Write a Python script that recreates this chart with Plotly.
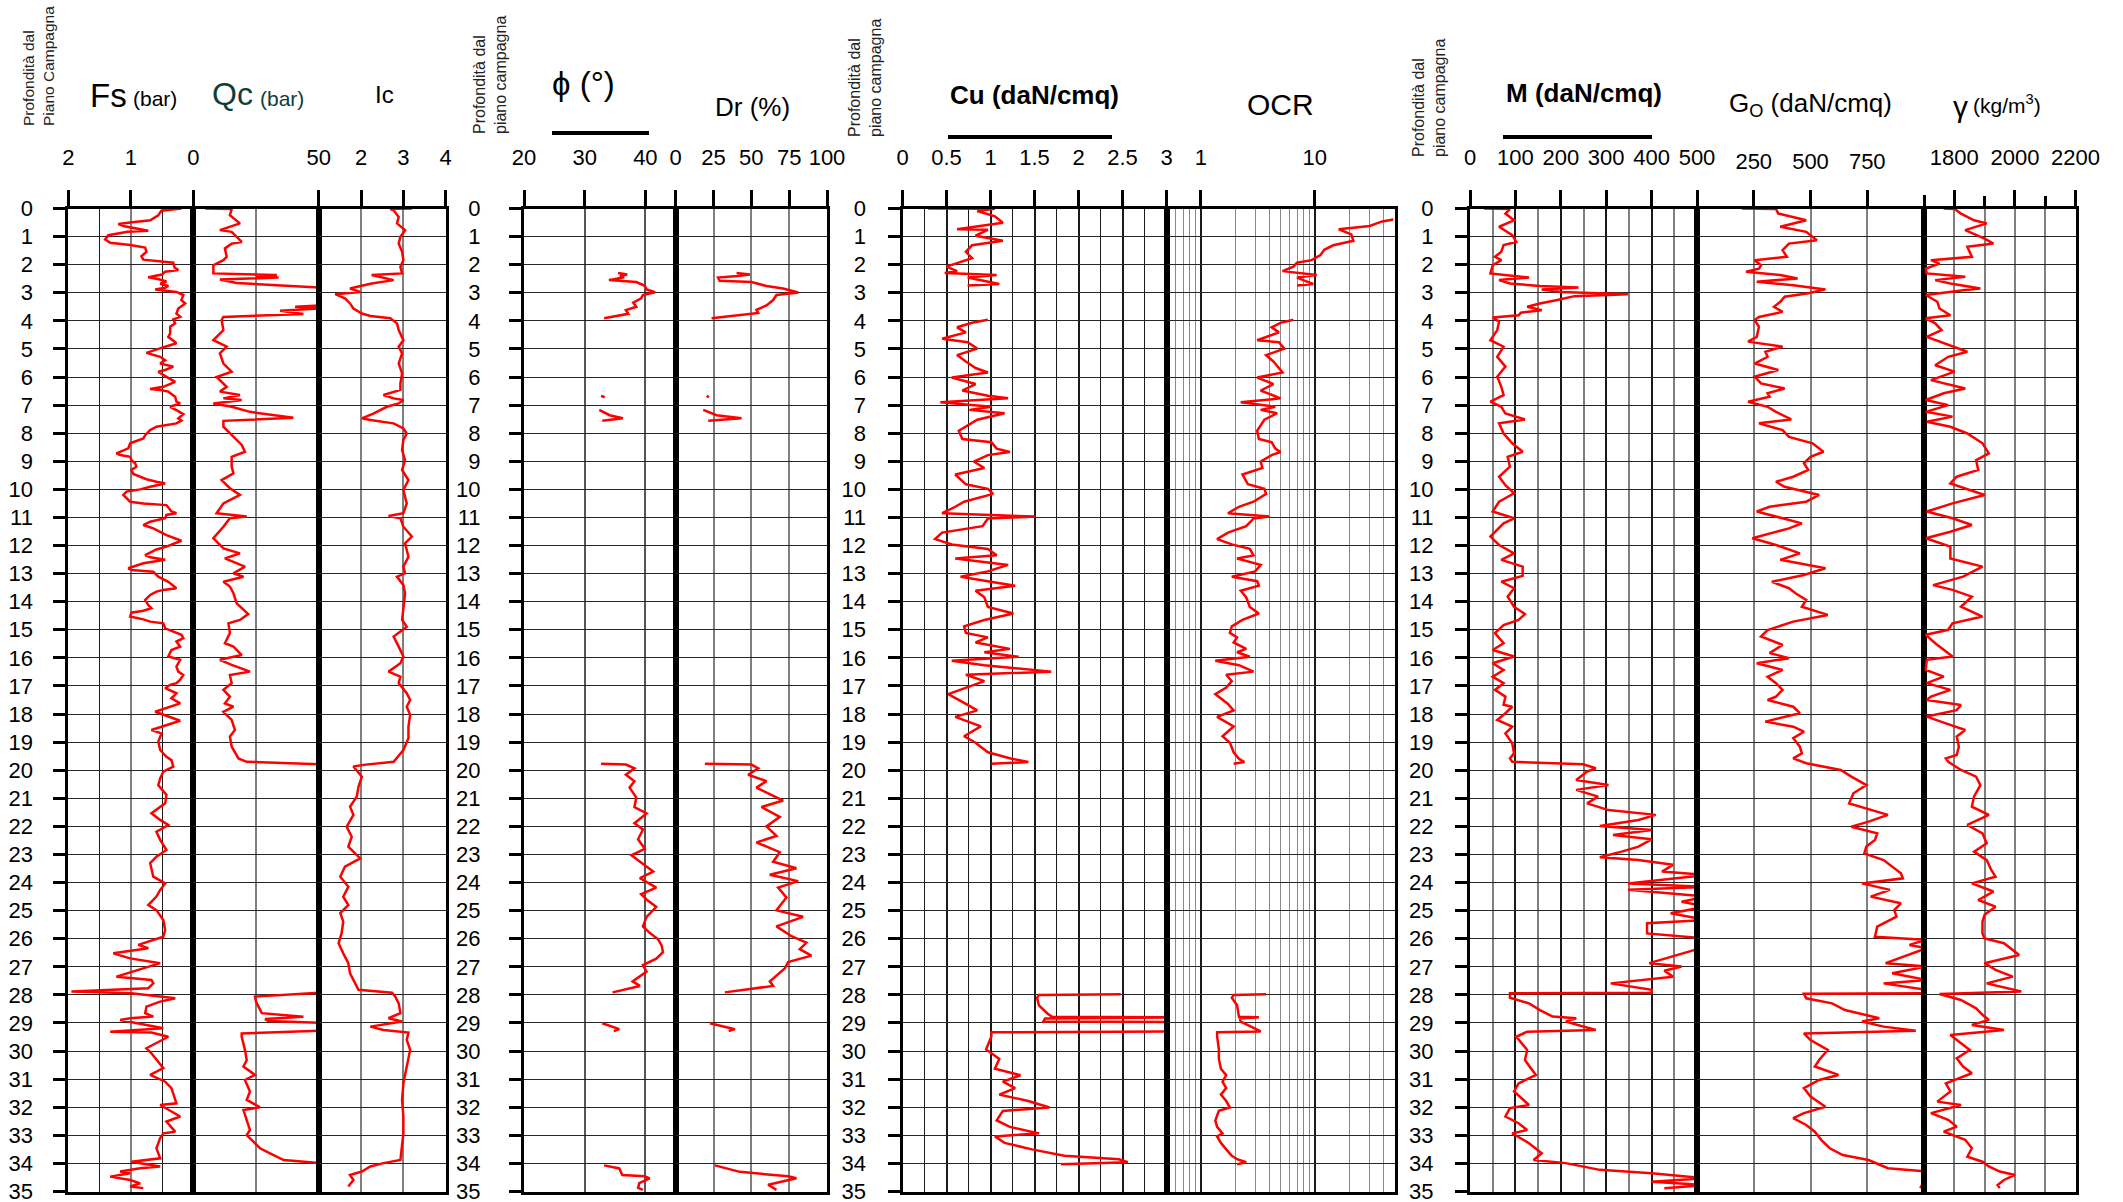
import math
import plotly.graph_objects as go

# ---------------------------------------------------------------- data
DEPTH_TICKS = list(range(0, 36))

FS_TICKS, FS_LABELS = [2, 1, 0], ["2", "1", "0"]
QC_TICKS, QC_LABELS = [0, 50], ["", "50"]
IC_TICKS, IC_LABELS = [1, 2, 3, 4], ["", "2", "3", "4"]
PHI_TICKS, PHI_LABELS = [20, 30, 40, 45], ["20", "30", "40", ""]
DR_TICKS, DR_LABELS = [0, 25, 50, 75, 100], ["0", "25", "50", "75", "100"]
CU_TICKS, CU_LABELS = [0, 0.5, 1, 1.5, 2, 2.5, 3], ["0", "0.5", "1", "1.5", "2", "2.5", "3"]
OCR_TICKS, OCR_LABELS = [1, 10], ["1", "10"]
M_TICKS, M_LABELS = [0, 100, 200, 300, 400, 500], ["0", "100", "200", "300", "400", "500"]
GO_TICKS, GO_LABELS = [250, 500, 750], ["250", "500", "750"]
GAMMA_TICKS, GAMMA_LABELS = [1800, 2000, 2200], ["1800", "2000", "2200"]

# (depth m, value) pairs; (None, None) = gap
FS = [(0.00, 0.19), (0.08, 0.51), (0.24, 0.56), (0.42, 0.69), (0.50, 1.01), (0.55, 1.20), (0.63, 1.10),
      (0.70, 0.90), (0.79, 0.72), (0.83, 1.05), (0.95, 1.36), (1.10, 1.41), (1.22, 1.33), (1.30, 1.01),
      (1.39, 0.77), (1.54, 0.75), (1.70, 0.83), (1.82, 0.80), (1.88, 0.55), (1.93, 0.32), (2.10, 0.30),
      (2.19, 0.24), (2.25, 0.45), (2.35, 0.50), (2.45, 0.72), (2.52, 0.55), (2.60, 0.43), (2.68, 0.53),
      (2.76, 0.40), (2.82, 0.45), (2.88, 0.61), (2.91, 0.48), (2.97, 0.27), (3.08, 0.16), (3.26, 0.19),
      (3.38, 0.13), (3.56, 0.24), (3.74, 0.27), (3.86, 0.21), (3.95, 0.32), (4.09, 0.29), (4.21, 0.37),
      (4.45, 0.37), (4.57, 0.40), (4.74, 0.29), (4.80, 0.27), (4.92, 0.45), (5.14, 0.75), (5.28, 0.53),
      (5.40, 0.45), (5.52, 0.53), (5.63, 0.32), (5.75, 0.45), (5.81, 0.56), (5.97, 0.45), (6.17, 0.29),
      (6.35, 0.48), (6.43, 0.69), (6.46, 0.53), (6.52, 0.40), (6.70, 0.29), (6.88, 0.27), (6.94, 0.21),
      (7.06, 0.37), (7.18, 0.27), (7.32, 0.16), (7.47, 0.24), (7.55, 0.19), (7.65, 0.27), (7.77, 0.59),
      (7.89, 0.69), (8.07, 0.77), (8.19, 0.80), (8.36, 1.01), (8.54, 1.04), (8.72, 1.23), (8.78, 1.17),
      (8.84, 1.01), (8.96, 0.99), (9.07, 0.93), (9.19, 0.91), (9.31, 0.99), (9.45, 0.96), (9.64, 0.75),
      (9.73, 0.59), (9.79, 0.45), (9.91, 0.69), (10.00, 0.85), (10.08, 1.07), (10.20, 1.12), (10.44, 1.01),
      (10.50, 0.80), (10.56, 0.43), (10.79, 0.35), (10.85, 0.27), (10.91, 0.43), (11.03, 0.45), (11.15, 0.69),
      (11.27, 0.80), (11.39, 0.64), (11.63, 0.43), (11.83, 0.19), (12.04, 0.43), (12.14, 0.59), (12.34, 0.77),
      (12.42, 0.69), (12.51, 0.45), (12.63, 0.80), (12.81, 1.04), (12.87, 0.99), (12.93, 0.64), (13.11, 0.56),
      (13.29, 0.40), (13.52, 0.27), (13.58, 0.48), (13.64, 0.59), (13.76, 0.69), (13.94, 0.77), (14.12, 0.72),
      (14.23, 0.67), (14.32, 0.80), (14.39, 0.99), (14.53, 1.01), (14.63, 0.80), (14.71, 0.69), (14.77, 0.48),
      (14.95, 0.45), (15.07, 0.32), (15.18, 0.19), (15.30, 0.16), (15.42, 0.27), (15.60, 0.21), (15.72, 0.35),
      (15.95, 0.40), (16.01, 0.32), (16.07, 0.21), (16.31, 0.27), (16.49, 0.24), (16.61, 0.16), (16.78, 0.21),
      (16.90, 0.27), (16.96, 0.37), (17.08, 0.45), (17.26, 0.27), (17.44, 0.35), (17.62, 0.21), (17.92, 0.61),
      (18.24, 0.21), (18.57, 0.67), (18.69, 0.51), (18.98, 0.56), (19.28, 0.53), (19.52, 0.43), (19.64, 0.35),
      (19.87, 0.32), (20.05, 0.48), (20.29, 0.53), (20.53, 0.56), (20.88, 0.43), (21.18, 0.45), (21.53, 0.67),
      (21.77, 0.53), (21.95, 0.40), (22.19, 0.59), (22.48, 0.53), (22.84, 0.43), (23.08, 0.59), (23.31, 0.69),
      (23.79, 0.64), (24.03, 0.45), (24.26, 0.53), (24.50, 0.59), (24.80, 0.72), (24.98, 0.59), (25.33, 0.48),
      (25.69, 0.45), (25.93, 0.48), (26.22, 0.88), (26.34, 0.72), (26.52, 1.28), (26.70, 1.01), (26.87, 0.53),
      (27.35, 1.23), (27.47, 0.67), (27.59, 0.64), (27.76, 0.72), (27.88, 1.95), (27.94, 0.99), (28.12, 0.29),
      (28.24, 0.53), (28.42, 0.75), (28.65, 0.77), (28.77, 0.64), (28.83, 1.01), (28.89, 1.17), (29.19, 0.48),
      (29.31, 1.33), (29.34, 0.67), (29.49, 0.40), (29.90, 0.75), (30.08, 0.67), (30.61, 0.48), (30.85, 0.69),
      (31.09, 0.45), (31.32, 0.35), (31.86, 0.27), (31.92, 0.53), (32.33, 0.21), (32.51, 0.43), (32.87, 0.29),
      (32.93, 0.48), (33.10, 0.53), (33.46, 0.59), (33.82, 0.53), (33.94, 0.99), (34.11, 0.53), (34.17, 0.85),
      (34.29, 1.17), (34.35, 1.01), (34.47, 1.33), (34.59, 1.01), (34.71, 0.85), (34.82, 1.01), (34.88, 0.80)]

QC = [(0.00, 4.7), (0.02, 15.3), (0.24, 14.6), (0.53, 18.6), (0.77, 10.6), (0.83, 15.3), (1.19, 19.3),
      (1.25, 15.3), (1.42, 12.6), (1.72, 13.3), (1.84, 12.0), (2.02, 8.0), (2.31, 8.0), (2.37, 33.3),
      (2.41, 25.0), (2.46, 34.0), (2.53, 10.6), (2.65, 17.3), (2.73, 33.3), (2.80, 50.3), (2.86, 60.0),
      (3.40, 60.0), (3.44, 50.0), (3.50, 40.6), (3.56, 50.0), (3.64, 34.6), (3.76, 43.9), (3.86, 12.0),
      (3.97, 11.3), (4.33, 12.0), (4.69, 8.0), (4.92, 13.3), (5.16, 10.6), (5.52, 12.0), (5.81, 15.3),
      (6.00, 9.3), (6.35, 13.3), (6.52, 10.6), (6.64, 18.6), (6.76, 12.0), (6.82, 19.3), (6.94, 8.0),
      (7.06, 15.3), (7.24, 22.6), (7.45, 39.9), (7.56, 12.0), (7.77, 12.0), (8.13, 16.0), (8.42, 19.3),
      (8.66, 20.6), (8.84, 15.3), (9.19, 15.3), (9.43, 16.0), (9.67, 11.3), (9.96, 14.6), (10.20, 18.6),
      (10.50, 12.0), (10.85, 9.3), (10.97, 21.3), (11.03, 14.6), (11.33, 12.0), (11.74, 8.0), (12.10, 12.0),
      (12.28, 18.6), (12.46, 12.6), (12.75, 20.6), (12.99, 16.0), (13.11, 20.0), (13.29, 12.0), (13.46, 14.6),
      (13.70, 16.0), (14.06, 17.3), (14.44, 21.9), (14.65, 18.6), (14.77, 14.0), (15.12, 14.6), (15.48, 12.6),
      (15.60, 16.0), (15.90, 19.3), (16.07, 10.6), (16.25, 15.3), (16.49, 22.6), (16.61, 14.6), (16.90, 15.3),
      (17.14, 12.0), (17.38, 14.6), (17.62, 12.6), (17.74, 16.0), (17.92, 12.0), (18.21, 15.3), (18.57, 16.6),
      (18.80, 14.6), (19.16, 15.3), (19.58, 18.0), (19.70, 21.3), (19.79, 50.3), (19.85, 60.0), (27.88, 60.0),
      (27.92, 50.3), (28.06, 24.6), (28.24, 25.0), (28.65, 27.3), (28.78, 43.9), (28.86, 28.6), (28.93, 30.0),
      (28.99, 50.3), (29.05, 60.0), (29.24, 60.0), (29.28, 50.3), (29.37, 19.3), (29.49, 19.3), (29.96, 20.6),
      (30.32, 21.3), (30.55, 20.0), (30.85, 24.6), (31.03, 20.6), (31.44, 22.6), (31.74, 21.3), (32.00, 26.6),
      (32.10, 20.0), (32.45, 21.3), (32.81, 22.6), (32.99, 21.3), (33.16, 23.3), (33.46, 26.6), (33.64, 30.6),
      (33.88, 36.0), (33.99, 50.3), (34.05, 60.0), (35.00, 60.0)]

IC = [(0.00, 3.20), (0.02, 2.69), (0.06, 2.77), (0.30, 2.89), (0.53, 2.85), (0.77, 3.04), (1.01, 2.93),
      (1.25, 2.89), (1.54, 2.97), (1.84, 3.00), (2.08, 2.93), (2.31, 2.97), (2.37, 2.25), (2.43, 2.45),
      (2.55, 2.77), (2.67, 2.25), (2.79, 1.90), (2.85, 1.74), (2.97, 1.98), (3.05, 1.39), (3.20, 1.62),
      (3.38, 1.74), (3.56, 1.82), (3.74, 2.02), (3.83, 2.22), (3.91, 2.69), (4.09, 2.85), (4.33, 2.89),
      (4.69, 3.00), (4.92, 2.89), (5.16, 2.97), (5.52, 2.89), (5.87, 2.97), (6.23, 2.93), (6.46, 2.93),
      (6.64, 2.53), (6.76, 2.77), (6.82, 3.00), (6.94, 2.89), (7.06, 2.61), (7.30, 2.29), (7.47, 2.02),
      (7.53, 2.22), (7.65, 2.77), (7.83, 3.00), (8.01, 3.08), (8.24, 3.00), (8.60, 2.97), (8.96, 3.04),
      (9.31, 2.97), (9.67, 3.12), (10.02, 3.00), (10.50, 3.08), (10.85, 3.00), (10.95, 2.65), (11.03, 2.93),
      (11.33, 3.00), (11.68, 3.20), (11.92, 3.04), (12.40, 3.12), (12.75, 3.00), (12.99, 3.04), (13.11, 2.85),
      (13.41, 3.00), (13.70, 3.04), (14.18, 3.00), (14.65, 2.97), (14.89, 3.08), (15.24, 2.77), (15.60, 2.89),
      (15.95, 3.00), (16.19, 2.93), (16.49, 2.65), (16.67, 2.93), (16.90, 2.89), (17.26, 3.08), (17.50, 3.16),
      (17.74, 3.08), (18.03, 3.16), (18.45, 3.12), (18.86, 3.12), (19.28, 3.00), (19.58, 2.85), (19.70, 2.77),
      (19.81, 2.06), (19.87, 1.82), (20.23, 2.02), (20.59, 1.94), (20.94, 1.90), (21.30, 1.74), (21.59, 1.82),
      (22.01, 1.66), (22.37, 1.78), (22.72, 1.70), (23.14, 1.98), (23.43, 1.62), (23.79, 1.51), (24.15, 1.70),
      (24.50, 1.58), (24.80, 1.70), (25.09, 1.51), (25.39, 1.58), (25.81, 1.54), (26.16, 1.47), (26.52, 1.58),
      (26.87, 1.70), (27.23, 1.74), (27.59, 1.86), (27.82, 1.94), (27.92, 2.73), (28.06, 2.81), (28.30, 2.89),
      (28.65, 2.93), (28.83, 2.65), (28.95, 2.97), (29.13, 2.22), (29.25, 2.53), (29.34, 3.12), (29.60, 3.08),
      (29.96, 3.16), (30.55, 3.08), (31.15, 3.00), (31.74, 2.97), (32.33, 3.00), (32.93, 3.00), (33.40, 2.97),
      (33.88, 2.93), (33.99, 2.53), (34.11, 2.22), (34.29, 2.02), (34.41, 1.74), (34.59, 1.82), (34.82, 1.70)]

PHI = [(2.30, 35.5), (2.35, 37.0), (2.40, 35.8), (2.45, 36.5), (2.55, 34.0), (2.62, 38.5), (2.75, 39.9),
       (2.88, 40.2), (2.98, 41.6), (3.08, 39.6), (3.20, 39.3), (3.35, 38.0), (3.50, 38.5), (3.62, 36.8),
       (3.75, 37.2), (3.91, 33.2), (None, None),
       (6.67, 32.7), (6.72, 33.3), (None, None),
       (7.17, 32.4), (7.36, 34.1), (7.47, 36.3), (7.56, 32.9), (None, None),
       (19.77, 32.7), (19.80, 36.8), (19.93, 38.2), (20.16, 36.8), (20.39, 38.2), (20.62, 37.4), (20.97, 38.5),
       (21.31, 38.2), (21.54, 40.2), (21.89, 38.2), (22.11, 39.6), (22.46, 38.8), (22.80, 39.9), (23.03, 37.7),
       (23.38, 39.9), (23.61, 41.3), (23.84, 39.1), (24.18, 41.8), (24.41, 39.3), (24.64, 40.4), (24.87, 41.8),
       (25.22, 40.2), (25.56, 39.6), (25.79, 40.7), (26.02, 42.1), (26.25, 42.7), (26.48, 42.9), (26.71, 41.8),
       (26.94, 39.6), (27.17, 40.2), (27.52, 37.9), (27.68, 39.1), (27.91, 34.6), (None, None),
       (29.01, 32.9), (29.22, 35.7), (29.29, 34.8), (None, None),
       (34.07, 33.2), (34.18, 35.7), (34.41, 36.2), (34.46, 39.9), (34.53, 40.7), (34.70, 39.0), (34.87, 38.8),
       (34.94, 39.6)]

DR = [(2.30, 40.2), (2.35, 49.0), (2.40, 41.0), (2.46, 28.0), (2.57, 29.0), (2.62, 50.0), (2.76, 60.0),
      (2.85, 71.0), (2.99, 81.0), (3.08, 66.6), (3.26, 64.4), (3.45, 60.0), (3.61, 53.4), (3.72, 54.5),
      (3.91, 23.7), (None, None),
      (6.67, 20.4), (6.72, 22.0), (None, None),
      (7.17, 18.2), (7.36, 27.0), (7.47, 43.5), (7.56, 21.5), (None, None),
      (19.77, 19.3), (19.80, 50.0), (19.93, 54.5), (20.16, 47.9), (20.39, 60.0), (20.62, 53.4), (21.08, 71.0),
      (21.31, 56.7), (21.66, 68.8), (22.00, 60.0), (22.34, 66.6), (22.57, 53.4), (22.92, 68.8), (23.26, 64.4),
      (23.49, 79.8), (23.72, 62.2), (23.95, 80.9), (24.18, 67.7), (24.53, 73.2), (24.99, 66.6), (25.22, 84.2),
      (25.56, 66.6), (25.91, 76.5), (26.14, 86.4), (26.37, 82.0), (26.60, 89.7), (26.83, 74.3), (27.06, 72.1),
      (27.52, 62.2), (27.68, 64.4), (27.91, 32.5), (None, None),
      (29.01, 22.6), (29.22, 39.1), (29.29, 35.0), (None, None),
      (34.07, 25.9), (34.30, 42.4), (34.46, 74.3), (34.53, 79.8), (34.76, 61.1), (34.94, 66.6)]

CU = [(0.00, 0.29), (0.01, 1.05), (0.09, 0.85), (0.28, 1.05), (0.51, 1.14), (0.74, 0.62), (0.76, 0.97),
      (0.97, 0.83), (1.15, 1.14), (1.31, 0.79), (1.54, 0.72), (1.77, 0.79), (2.07, 0.50), (2.23, 0.62),
      (2.30, 0.48), (2.37, 1.07), (2.46, 0.74), (2.69, 1.10), (2.74, 0.74), (None, None),
      (3.96, 0.97), (4.07, 0.79), (4.23, 0.62), (4.41, 0.72), (4.64, 0.45), (4.76, 0.74), (4.99, 0.85),
      (5.22, 0.62), (5.45, 0.72), (5.68, 0.83), (5.84, 0.97), (6.02, 0.56), (6.25, 0.83), (6.48, 0.68),
      (6.67, 0.97), (6.76, 1.20), (6.90, 0.43), (7.06, 1.01), (7.17, 0.76), (7.29, 1.16), (7.52, 0.85),
      (7.91, 0.64), (8.21, 0.68), (8.32, 1.01), (8.55, 1.07), (8.67, 1.22), (8.78, 0.97), (9.01, 0.81),
      (9.24, 0.93), (9.47, 0.60), (9.82, 0.72), (9.98, 0.97), (10.16, 1.03), (10.44, 0.70), (10.62, 0.60),
      (10.85, 0.45), (10.97, 1.51), (11.04, 0.97), (11.31, 0.91), (11.54, 0.45), (11.77, 0.37), (11.96, 0.56),
      (12.12, 0.97), (12.35, 1.07), (12.46, 0.60), (12.69, 1.20), (12.92, 0.97), (13.11, 0.66), (13.27, 0.97),
      (13.43, 1.28), (13.61, 0.83), (13.84, 0.93), (14.19, 0.97), (14.42, 1.26), (14.65, 0.93), (14.88, 0.70),
      (15.11, 0.72), (15.27, 0.97), (15.45, 0.83), (15.68, 1.22), (15.80, 0.93), (15.96, 1.32), (16.10, 0.56),
      (16.26, 0.93), (16.49, 1.69), (16.60, 0.72), (16.83, 0.93), (17.06, 0.72), (17.29, 0.52), (17.64, 0.72),
      (17.87, 0.85), (18.10, 0.60), (18.44, 0.89), (18.79, 0.70), (19.02, 0.83), (19.36, 0.97), (19.59, 1.24),
      (19.71, 1.43), (19.77, 1.01), (None, None),
      (27.98, 2.48), (28.00, 1.55), (28.10, 1.53), (28.37, 1.55), (28.67, 1.65), (28.78, 1.70), (28.80, 3.20),
      (28.84, 1.62), (28.95, 1.60), (28.97, 3.20), (29.30, 3.20), (29.33, 1.01), (29.48, 1.01), (29.94, 0.95),
      (30.28, 1.10), (30.63, 1.05), (30.86, 1.34), (31.09, 1.14), (31.32, 1.28), (31.55, 1.10), (31.78, 1.43),
      (32.01, 1.67), (32.13, 1.14), (32.47, 1.07), (32.70, 1.22), (32.93, 1.55), (33.04, 1.05), (33.27, 1.16),
      (33.50, 1.47), (33.73, 1.84), (33.85, 2.46), (33.96, 2.56), (34.03, 1.80)]

OCR = [(0.39, 48.7), (0.46, 39.0), (0.62, 30.3), (0.69, 20.9), (0.74, 16.2), (0.92, 20.9), (1.15, 21.8),
       (1.31, 14.5), (1.47, 12.1), (1.66, 11.2), (1.84, 9.36), (1.93, 6.98), (2.07, 6.49), (2.23, 5.21),
       (2.30, 7.51), (2.37, 10.4), (2.46, 6.98), (2.69, 9.7), (2.74, 6.98), (None, None),
       (3.96, 6.49), (4.07, 5.00), (4.23, 4.18), (4.41, 4.84), (4.69, 3.12), (4.76, 4.84), (4.99, 5.40),
       (5.22, 3.74), (5.45, 4.34), (5.68, 4.84), (5.84, 5.21), (6.02, 3.12), (6.25, 4.34), (6.48, 3.35),
       (6.67, 4.50), (6.76, 5.00), (6.90, 2.24), (7.06, 4.50), (7.17, 3.35), (7.29, 4.67), (7.52, 3.61),
       (7.91, 3.12), (8.21, 3.23), (8.32, 4.18), (8.55, 4.50), (8.67, 5.00), (8.78, 4.18), (9.01, 3.35),
       (9.24, 3.47), (9.47, 2.32), (9.82, 2.59), (9.98, 3.61), (10.16, 3.74), (10.44, 2.90), (10.62, 2.16),
       (10.85, 1.73), (10.97, 4.00), (11.04, 2.90), (11.31, 2.50), (11.54, 1.73), (11.77, 1.39), (11.96, 1.87),
       (12.12, 2.69), (12.35, 2.90), (12.46, 2.08), (12.69, 3.35), (12.92, 3.00), (13.11, 1.87), (13.27, 3.12),
       (13.43, 3.23), (13.61, 2.24), (13.84, 2.50), (14.19, 2.69), (14.42, 3.23), (14.65, 2.32), (14.88, 1.87),
       (15.11, 1.80), (15.27, 2.08), (15.45, 1.94), (15.68, 2.50), (15.80, 2.08), (15.96, 2.69), (16.10, 1.34),
       (16.26, 2.16), (16.49, 2.90), (16.60, 1.67), (16.83, 1.87), (17.06, 1.67), (17.29, 1.34), (17.64, 1.73),
       (17.87, 1.94), (18.10, 1.39), (18.44, 1.94), (18.79, 1.55), (19.02, 1.80), (19.36, 1.94), (19.59, 2.16),
       (19.71, 2.41), (19.77, 1.94), (None, None),
       (27.98, 3.74), (28.00, 1.94), (28.10, 1.87), (28.37, 2.08), (28.78, 2.16), (28.80, 3.23), (28.84, 2.20),
       (28.95, 2.24), (29.30, 3.35), (29.33, 1.39), (29.48, 1.39), (29.94, 1.44), (30.28, 1.44), (30.63, 1.50),
       (30.86, 1.67), (31.09, 1.55), (31.32, 1.67), (31.55, 1.50), (31.78, 1.67), (32.01, 1.80), (32.13, 1.44),
       (32.47, 1.34), (32.70, 1.39), (32.93, 1.55), (33.04, 1.39), (33.27, 1.50), (33.50, 1.67), (33.73, 1.87),
       (33.85, 2.08), (33.96, 2.50), (34.03, 2.08)]

M = [(0.00, 31), (0.02, 88), (0.18, 78), (0.42, 97), (0.65, 64), (0.95, 93), (1.19, 102), (1.30, 74),
     (1.54, 69), (1.72, 55), (1.84, 69), (2.02, 50), (2.31, 45), (2.41, 97), (2.46, 130), (2.55, 64),
     (2.67, 88), (2.76, 154), (2.81, 239), (2.88, 158), (2.97, 201), (3.05, 348), (3.12, 230), (3.26, 192),
     (3.38, 154), (3.50, 126), (3.62, 158), (3.71, 112), (3.80, 107), (3.88, 50), (4.03, 64), (4.33, 60),
     (4.69, 45), (4.92, 74), (5.28, 60), (5.63, 78), (5.99, 60), (6.35, 69), (6.64, 74), (6.88, 45),
     (7.06, 69), (7.30, 78), (7.51, 121), (7.65, 64), (8.01, 74), (8.36, 93), (8.66, 116), (8.84, 83),
     (9.19, 88), (9.55, 64), (9.85, 78), (10.14, 97), (10.44, 64), (10.79, 50), (11.03, 97), (11.21, 74),
     (11.68, 45), (11.98, 64), (12.28, 97), (12.51, 69), (12.75, 116), (13.08, 116), (13.29, 69), (13.52, 97),
     (13.82, 83), (14.18, 97), (14.44, 121), (14.65, 107), (14.83, 74), (15.12, 55), (15.48, 74), (15.72, 50),
     (15.95, 97), (16.19, 50), (16.43, 74), (16.67, 50), (16.90, 74), (17.14, 55), (17.38, 78), (17.67, 74),
     (17.74, 93), (17.97, 78), (18.21, 60), (18.45, 93), (18.69, 78), (19.04, 93), (19.40, 97), (19.58, 88),
     (19.70, 93), (19.79, 249), (19.93, 277), (20.05, 258), (20.35, 234), (20.53, 305), (20.70, 234),
     (20.94, 282), (21.18, 258), (21.42, 305), (21.59, 409), (21.77, 371), (21.99, 286), (22.13, 400),
     (22.31, 315), (22.46, 400), (22.72, 371), (22.90, 334), (23.10, 286), (23.20, 371), (23.37, 447),
     (23.61, 423), (23.73, 520), (24.03, 348), (24.15, 520), (24.26, 348), (24.50, 520), (24.68, 466),
     (24.86, 520), (25.09, 442), (25.33, 520), (25.45, 390), (25.81, 390), (25.99, 520), (26.28, 520),
     (26.87, 395), (26.99, 466), (27.14, 428), (27.35, 447), (27.59, 310), (27.82, 400), (27.92, 400),
     (27.94, 88), (28.10, 88), (28.30, 130), (28.54, 154), (28.77, 182), (28.83, 234), (28.95, 211),
     (29.25, 277), (29.31, 126), (29.49, 102), (29.96, 126), (30.32, 121), (30.85, 145), (31.15, 107),
     (31.44, 97), (31.92, 130), (32.03, 88), (32.33, 78), (32.57, 107), (32.81, 126), (32.93, 93),
     (33.28, 130), (33.64, 158), (33.88, 140), (33.99, 211), (34.23, 286), (34.35, 400), (34.53, 520),
     (34.65, 400), (34.77, 520), (34.88, 428)]

GO = [(0.00, 197), (0.02, 348), (0.18, 358), (0.42, 481), (0.65, 367), (0.83, 481), (1.13, 528), (1.25, 405),
      (1.48, 377), (1.72, 396), (1.84, 254), (2.02, 282), (2.14, 273), (2.25, 216), (2.37, 367), (2.49, 443),
      (2.61, 263), (2.73, 424), (2.88, 566), (3.02, 490), (3.14, 386), (3.32, 367), (3.50, 339), (3.68, 377),
      (3.86, 273), (3.97, 254), (4.21, 273), (4.57, 263), (4.74, 225), (4.92, 377), (5.10, 301), (5.28, 311),
      (5.52, 254), (5.75, 358), (5.99, 254), (6.23, 282), (6.41, 386), (6.58, 311), (6.70, 320), (6.88, 225),
      (7.06, 311), (7.24, 348), (7.51, 415), (7.65, 273), (7.89, 377), (8.13, 405), (8.36, 509), (8.66, 557),
      (8.84, 500), (9.07, 471), (9.31, 490), (9.55, 424), (9.73, 348), (9.91, 386), (10.20, 538), (10.44, 481),
      (10.62, 320), (10.79, 263), (11.03, 377), (11.21, 462), (11.39, 405), (11.74, 244), (11.98, 348),
      (12.28, 453), (12.51, 367), (12.81, 566), (13.05, 471), (13.29, 330), (13.52, 405), (13.70, 434),
      (13.94, 481), (14.18, 462), (14.47, 576), (14.71, 424), (15.01, 311), (15.24, 282), (15.54, 377),
      (15.83, 320), (16.01, 405), (16.19, 263), (16.43, 377), (16.67, 311), (16.90, 348), (17.14, 377),
      (17.38, 348), (17.50, 311), (17.74, 424), (17.97, 453), (18.27, 301), (18.45, 424), (18.63, 471),
      (18.86, 424), (19.16, 453), (19.40, 462), (19.58, 424), (19.75, 481), (19.99, 633), (20.23, 680),
      (20.53, 746), (20.82, 689), (21.18, 670), (21.42, 765), (21.59, 841), (21.83, 756), (22.01, 680),
      (22.25, 794), (22.48, 784), (22.72, 746), (22.96, 737), (23.20, 822), (23.43, 860), (23.67, 898),
      (23.85, 907), (24.03, 727), (24.26, 850), (24.50, 765), (24.74, 898), (24.98, 869), (25.21, 879),
      (25.57, 794), (25.93, 784), (26.04, 1010), (26.22, 936), (26.34, 1010), (26.87, 831), (26.99, 1010),
      (27.23, 860), (27.47, 1010), (27.59, 822), (27.82, 1010), (27.94, 1010), (27.96, 471), (28.12, 481),
      (28.30, 595), (28.54, 652), (28.71, 746), (28.83, 803), (28.95, 727), (29.13, 822), (29.28, 964),
      (29.37, 471), (29.61, 500), (29.96, 576), (30.32, 538), (30.55, 519), (30.85, 623), (31.03, 538),
      (31.32, 471), (31.62, 500), (31.98, 566), (32.21, 471), (32.39, 424), (32.63, 481), (32.87, 519),
      (33.16, 547), (33.46, 585), (33.70, 642), (33.88, 756), (34.05, 803), (34.17, 841), (34.29, 1010),
      (34.53, 1010), (34.88, 983)]

GAMMA = [(0.00, 1765), (0.02, 1801), (0.18, 1822), (0.42, 1865), (0.53, 1907), (0.77, 1836), (1.07, 1900),
         (1.25, 1929), (1.36, 1843), (1.72, 1858), (1.84, 1723), (1.96, 1751), (2.14, 1706), (2.31, 1709),
         (2.43, 1836), (2.55, 1737), (2.67, 1787), (2.85, 1886), (2.91, 1829), (2.97, 1787), (3.08, 1706),
         (3.32, 1744), (3.56, 1751), (3.80, 1787), (3.91, 1706), (4.09, 1737), (4.33, 1758), (4.57, 1709),
         (4.80, 1765), (5.10, 1843), (5.28, 1780), (5.58, 1737), (5.81, 1801), (6.11, 1723), (6.41, 1836),
         (6.58, 1765), (6.82, 1706), (7.00, 1780), (7.24, 1706), (7.41, 1794), (7.59, 1709), (7.77, 1787),
         (8.01, 1843), (8.36, 1893), (8.72, 1914), (8.96, 1872), (9.31, 1879), (9.55, 1808), (9.79, 1787),
         (10.20, 1900), (10.50, 1794), (10.79, 1709), (11.03, 1794), (11.27, 1858), (11.51, 1787), (11.74, 1706),
         (12.04, 1787), (12.46, 1787), (12.75, 1893), (13.11, 1829), (13.41, 1730), (13.58, 1794), (13.82, 1858),
         (14.18, 1822), (14.53, 1893), (14.77, 1794), (15.00, 1780), (15.18, 1706), (15.48, 1737), (15.72, 1765),
         (15.95, 1794), (16.07, 1709), (16.43, 1706), (16.67, 1765), (16.90, 1709), (17.14, 1787), (17.38, 1723),
         (17.50, 1709), (17.68, 1822), (17.86, 1808), (18.09, 1709), (18.33, 1772), (18.57, 1836), (18.80, 1808),
         (19.16, 1815), (19.46, 1808), (19.58, 1772), (19.70, 1780), (19.99, 1822), (20.23, 1872), (20.53, 1886),
         (20.94, 1865), (21.30, 1858), (21.59, 1914), (21.95, 1843), (22.25, 1893), (22.60, 1907), (22.90, 1865),
         (23.20, 1907), (23.55, 1922), (23.79, 1936), (24.03, 1858), (24.32, 1929), (24.62, 1879), (24.86, 1936),
         (25.15, 1900), (25.39, 1893), (25.81, 1893), (25.99, 1900), (26.16, 1964), (26.58, 2014), (26.87, 1900),
         (27.11, 1936), (27.35, 1993), (27.59, 1907), (27.88, 2021), (27.97, 1751), (28.18, 1822), (28.48, 1872),
         (28.71, 1893), (28.89, 1914), (29.07, 1858), (29.25, 1964), (29.43, 1787), (29.67, 1815), (29.96, 1851),
         (30.26, 1808), (30.55, 1829), (30.79, 1858), (31.15, 1772), (31.44, 1787), (31.80, 1744), (31.92, 1822),
         (32.21, 1723), (32.45, 1780), (32.69, 1808), (32.87, 1765), (33.16, 1836), (33.46, 1858), (33.76, 1843),
         (33.94, 1893), (34.11, 1914), (34.29, 1950), (34.41, 2000), (34.59, 1964), (34.77, 1943), (34.88, 1950)]

# ---------------------------------------------------------------- layout helpers
# The page body margin is removed by a post-script, so the figure fills the window.
W, H = 2123, 1202
FONT = "Liberation Sans, Arial, sans-serif"
RED = "#ff0000"
TEAL = "#0f3d39"


def fx(p):
    return p / W


def fy(p):
    return 1 - p / H


Y_DOMAIN = [fy(1191.5), fy(208.5)]

GRAY = "#7f7f7f"
DARK = "#1a1a1a"

tracks = [
    dict(data=FS, dom=(68.3, 193.3), rng=[2, 0], tv=FS_TICKS, tt=FS_LABELS, grid=(GRAY, 2),
         minor=dict(tickvals=[1.5, 0.5], showgrid=True, gridcolor=DARK, gridwidth=1), ylab=16),
    dict(data=QC, dom=(193.3, 318.7), rng=[0, 50], tv=QC_TICKS, tt=QC_LABELS, grid=(DARK, 1),
         minor=dict(tickvals=[25], showgrid=True, gridcolor=GRAY, gridwidth=2)),
    dict(data=IC, dom=(318.7, 445.7), rng=[1, 4], tv=IC_TICKS, tt=IC_LABELS, grid=(GRAY, 2)),
    dict(data=PHI, dom=(524, 675.7), rng=[20, 45], tv=PHI_TICKS, tt=PHI_LABELS, grid=("#555555", 1.5), ylab=24),
    dict(data=DR, dom=(675.7, 827), rng=[0, 100], tv=DR_TICKS, tt=DR_LABELS, grid=(GRAY, 2)),
    dict(data=CU, dom=(902.5, 1166.5), rng=[0, 3], tv=CU_TICKS, tt=CU_LABELS, grid=(DARK, 2),
         minor=dict(tickvals=[0.25, 0.75, 1.25, 1.75, 2.25, 2.75], showgrid=True, gridcolor=DARK, gridwidth=1),
         ylab=17),
    dict(data=OCR, dom=(1166.5, 1394.5), rng=[math.log10(0.5), math.log10(50)], log=True,
         tv=OCR_TICKS, tt=OCR_LABELS, grid=(DARK, 1.5),
         minor=dict(tickvals=[0.6, 0.7, 0.8, 0.9, 2, 3, 4, 5, 6, 7, 8, 9, 20, 30, 40],
                    showgrid=True, gridcolor="#8a8a8a", gridwidth=1)),
    dict(data=M, dom=(1470, 1697), rng=[0, 500], tv=M_TICKS, tt=M_LABELS, grid=(DARK, 1.5),
         minor=dict(tickvals=[50, 150, 250, 350, 450], showgrid=True, gridcolor=GRAY, gridwidth=1.5), ylab=17),
    dict(data=GO, dom=(1697, 1924), rng=[0, 1000], tv=GO_TICKS, tt=GO_LABELS, grid=(GRAY, 2), xlab=12,
         minor=dict(tickvals=[1000], ticks="outside", ticklen=11, tickwidth=3, tickcolor="black",
                    showgrid=False)),
    dict(data=GAMMA, dom=(1924, 2075.5), rng=[1700, 2200], tv=GAMMA_TICKS, tt=GAMMA_LABELS, grid=(GRAY, 2),
         minor=dict(tickvals=[1700, 1900, 2100], ticks="outside", ticklen=10, tickwidth=3, tickcolor="black",
                    showgrid=True, gridcolor=GRAY, gridwidth=2)),
]

fig = go.Figure()
layout = dict(
    template="none",
    width=W, height=H, margin=dict(l=0, r=0, t=0, b=0, pad=0, autoexpand=False),
    paper_bgcolor="white", plot_bgcolor="white", showlegend=False,
    font=dict(family=FONT, size=22, color="black"),
)

for i, t in enumerate(tracks, start=1):
    xname = "x" if i == 1 else f"x{i}"
    yname = "y" if i == 1 else f"y{i}"
    depth = [d for d, v in t["data"]]
    vals = [v for d, v in t["data"]]
    fig.add_trace(go.Scatter(x=vals, y=depth, xaxis=xname, yaxis=yname, mode="lines",
                             line=dict(color=RED, width=2.5), connectgaps=False, hoverinfo="skip"))
    xa = dict(
        domain=[fx(t["dom"][0]), fx(t["dom"][1])], anchor=yname, side="top", automargin=False,
        range=t["rng"], type="log" if t.get("log") else "linear",
        tickmode="array", tickvals=t["tv"], ticktext=t["tt"],
        ticks="outside", ticklen=16, tickwidth=3, tickcolor="black",
        tickfont=dict(family=FONT, size=22, color="black"), ticklabelstandoff=t.get("xlab", 16),
        ticklabeloverflow="allow",
        showline=True, linewidth=3, linecolor="black", mirror=True,
        showgrid=True, gridcolor=t["grid"][0], gridwidth=t["grid"][1], zeroline=False,
        fixedrange=True,
    )
    if "minor" in t:
        m = dict(t["minor"])
        m.setdefault("ticks", "")
        xa["minor"] = m
    labeled = "ylab" in t
    ya = dict(
        domain=Y_DOMAIN, anchor=xname, range=[35, 0], tickmode="array", tickvals=DEPTH_TICKS,
        ticktext=[str(d) for d in DEPTH_TICKS], automargin=False,
        ticks="outside" if labeled else "", ticklen=12, tickwidth=3, tickcolor="black",
        showticklabels=labeled, tickfont=dict(family=FONT, size=22, color="black"),
        ticklabelstandoff=t.get("ylab", 0), ticklabeloverflow="allow",
        showline=True, linewidth=3, linecolor="black", mirror=True,
        showgrid=True, gridcolor="#262626", gridwidth=1.2, zeroline=False, fixedrange=True,
    )
    layout["xaxis" if i == 1 else f"xaxis{i}"] = xa
    layout["yaxis" if i == 1 else f"yaxis{i}"] = ya

fig.update_layout(**layout)

# ---------------------------------------------------------------- header texts
annotations = []


def txt(text, left, cy, size, color="black", bold=False, anchor="left"):
    if bold:
        text = f"<b>{text}</b>"
    annotations.append(dict(text=text, x=fx(left), y=fy(cy), xref="paper", yref="paper",
                            xanchor=anchor, yanchor="middle", showarrow=False,
                            font=dict(family=FONT, size=size, color=color)))


txt("Fs", 88, 95, 33)
txt("(bar)", 131, 98, 21)
txt("Qc", 210, 94, 32, TEAL)
txt("(bar)", 258, 98, 21, TEAL)
txt("Ic", 373, 94, 24)
txt("ϕ (°)", 550, 84, 33)
txt("Dr (%)", 713, 107, 26)
txt("Cu (daN/cmq)", 948, 95, 26, bold=True)
txt("OCR", 1245, 104, 30)
txt("M (daN/cmq)", 1504, 93, 26, bold=True)
txt("G<sub>O</sub> (daN/cmq)", 1727, 104, 26)
txt("γ", 1951, 106, 30)
txt("(kg/m<sup>3</sup>)", 1971, 104, 21)

for cx, cy, second, fsz in [(39, 66, "Piano Campagna", 15.5), (490, 75, "piano campagna", 16),
                            (865, 78, "piano campagna", 16), (1429, 98, "piano campagna", 16)]:
    annotations.append(dict(text=f"Profondità dal<br>{second}", x=fx(cx), y=fy(cy),
                            xref="paper", yref="paper", xanchor="center", yanchor="middle",
                            textangle=-90, align="left", showarrow=False,
                            font=dict(family=FONT, size=fsz, color="#222222")))

shapes = []
for x0, x1, yy in [(552, 649, 133), (948, 1112, 137), (1503, 1652, 137)]:
    shapes.append(dict(type="line", xref="paper", yref="paper", x0=fx(x0), x1=fx(x1), y0=fy(yy), y1=fy(yy),
                       line=dict(color="black", width=4)))

fig.update_layout(annotations=annotations, shapes=shapes)
fig.write_html("out.html", config={"displayModeBar": False},
               post_script="document.body.style.margin='0px';document.body.style.overflow='hidden';")
